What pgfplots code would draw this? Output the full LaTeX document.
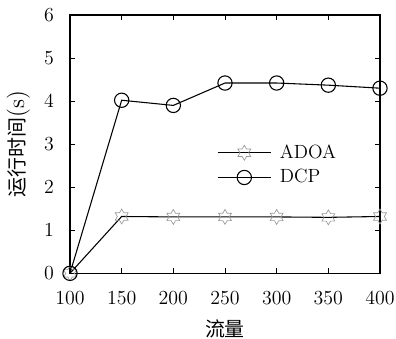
\documentclass[border=0pt]{standalone}
\usepackage{pgfplots}
\pgfplotsset{compat=1.18}
\usepackage{fontspec}
\newfontfamily\cjk{Noto Sans CJK SC}
\pgfdeclareplotmark{hexstar}{%
  \pgfpathmoveto{\pgfpointpolar{90}{\pgfplotmarksize}}%
  \pgfpathlineto{\pgfpointpolar{120}{0.57735\pgfplotmarksize}}%
  \pgfpathlineto{\pgfpointpolar{150}{\pgfplotmarksize}}%
  \pgfpathlineto{\pgfpointpolar{180}{0.57735\pgfplotmarksize}}%
  \pgfpathlineto{\pgfpointpolar{210}{\pgfplotmarksize}}%
  \pgfpathlineto{\pgfpointpolar{240}{0.57735\pgfplotmarksize}}%
  \pgfpathlineto{\pgfpointpolar{270}{\pgfplotmarksize}}%
  \pgfpathlineto{\pgfpointpolar{300}{0.57735\pgfplotmarksize}}%
  \pgfpathlineto{\pgfpointpolar{330}{\pgfplotmarksize}}%
  \pgfpathlineto{\pgfpointpolar{0}{0.57735\pgfplotmarksize}}%
  \pgfpathlineto{\pgfpointpolar{30}{\pgfplotmarksize}}%
  \pgfpathlineto{\pgfpointpolar{60}{0.57735\pgfplotmarksize}}%
  \pgfpathclose
  \pgfusepathqstroke
}
\begin{document}
\begin{tikzpicture}
\fontsize{11.5}{13.5}\selectfont
\begin{axis}[
  name=ax,
  scale only axis,
  width=186bp, height=155bp,
  xmin=100, xmax=400, ymin=0, ymax=6,
  xtick={100,150,...,400}, ytick={0,1,...,6},
  tick align=inside,
  major tick length=3pt,
  axis line style={line width=0.8pt},
  tick style={black, line width=0.5pt},
  ticklabel style={font=\fontsize{11.5}{13}\selectfont},
  xticklabel style={anchor=center, yshift=-14.7bp},
  yticklabel style={anchor=center, xshift=-12.6bp},
  xlabel={\cjk 流量}, ylabel={{\cjk 运行时间}{\fontsize{14}{16}\selectfont(s)}},
  xlabel style={font=\fontsize{12}{14}\selectfont, at={(axis description cs:0.5,0)}, anchor=center, yshift=-33.5bp},
  ylabel style={font=\fontsize{12}{14}\selectfont, at={(axis description cs:0,0.5)}, anchor=center, yshift=31bp},
  clip=false,
  legend style={draw=none, fill=none, at={(0.672,0.419)}, anchor=center,
    font=\fontsize{11.5}{13}\selectfont, row sep=1bp},
  legend cell align=left,
  legend image code/.code={\draw[mark repeat=2, mark phase=2] plot coordinates {(0bp,0bp) (16bp,0bp) (32bp,0bp)}; \path (35bp,0bp);},
]
\addplot[black, line width=0.65pt, mark=hexstar, mark size=4.5pt,
  mark options={draw=black!40, line width=0.4pt}]
  coordinates {(100,0) (150,1.32) (200,1.31) (250,1.31) (300,1.31) (350,1.30) (400,1.32)};
\addlegendentry{ADOA}
\addplot[black, line width=0.65pt, mark=o, mark size=4.3pt,
  mark options={line width=0.65pt}]
  coordinates {(100,0) (150,4.02) (200,3.9) (250,4.42) (300,4.42) (350,4.37) (400,4.30)};
\addlegendentry{DCP}
\end{axis}
\pgfresetboundingbox
\path (ax.south west) ++(-42bp,-39bp) coordinate (bl);
\path (ax.north east) ++(9.6bp,9bp) coordinate (tr);
\path (bl) rectangle (tr);
\end{tikzpicture}
\end{document}
